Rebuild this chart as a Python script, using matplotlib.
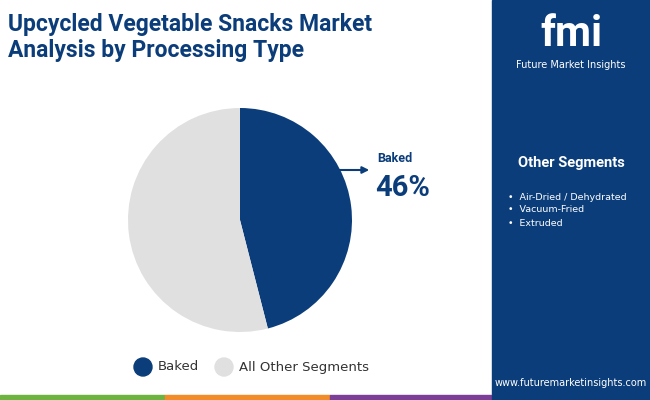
import matplotlib
matplotlib.use("Agg")
import matplotlib.pyplot as plt
from matplotlib.patches import Rectangle, FancyArrowPatch, Circle

categories = ["Baked", "All Other Segments"]
values = [46, 54]
colors = ["#0b3d7a", "#e0e0e0"]
other_segments = ["Air-Dried / Dehydrated", "Vacuum-Fried", "Extruded"]

W, H = 650, 400
fig = plt.figure(figsize=(W/100, H/100), dpi=100)
bg = fig.add_axes([0, 0, 1, 1])
bg.set_xlim(0, W); bg.set_ylim(H, 0); bg.axis("off")

navy = "#0b3d7a"
bg.add_patch(Rectangle((492, 0), 158, 400, color=navy))
for x0, x1, c in [(0, 165, "#6cb33f"), (165, 330, "#f28c28"), (330, 492, "#7b3f98"), (492, 650, navy)]:
    bg.add_patch(Rectangle((x0, 395), x1 - x0, 5, color=c))

bg.text(8, 24, "Upcycled Vegetable Snacks Market", fontsize=16.5, fontweight="bold", color=navy, va="center", family="Roboto")
bg.text(8, 50, "Analysis by Processing Type", fontsize=16.5, fontweight="bold", color=navy, va="center", family="Roboto")

bg.text(571, 34, "fmi", fontsize=30, fontweight="bold", color="white", ha="center", va="center", family="Roboto")
bg.text(571, 65, "Future Market Insights", fontsize=7, color="white", ha="center", va="center")
bg.text(571, 163, "Other Segments", fontsize=10.5, fontweight="bold", color="white", ha="center", va="center", family="Roboto")
for i, s in enumerate(other_segments):
    bg.text(508, 197 + i * 13, "•  " + s, fontsize=6.8, color="white", va="center")
bg.text(571, 383, "www.futuremarketinsights.com", fontsize=7, color="white", ha="center", va="center")

R = 112
ax = fig.add_axes([(240 - R) / W, 1 - (220 + R) / H, 2 * R / W, 2 * R / H])
ax.pie(values, colors=colors, startangle=90, counterclock=False)
ax.set_xlim(-1, 1); ax.set_ylim(-1, 1)
ax.set_aspect("equal")

bg.add_patch(FancyArrowPatch((336, 170), (372, 170), arrowstyle="-|>", mutation_scale=10, color=navy, lw=1.5))
bg.text(377, 158, "Baked", fontsize=9, fontweight="bold", color=navy, va="center", family="Roboto")
bg.text(375, 188, "46%", fontsize=21, fontweight="bold", color=navy, va="center", family="Roboto")

for x, c, lab in [(143, colors[0], categories[0]), (224, colors[1], categories[1])]:
    bg.add_patch(Circle((x, 367), 9, color=c))
    bg.text(x + 15, 367, lab, fontsize=9.5, color="#333333", va="center")

fig.savefig("out.png", dpi=100)
